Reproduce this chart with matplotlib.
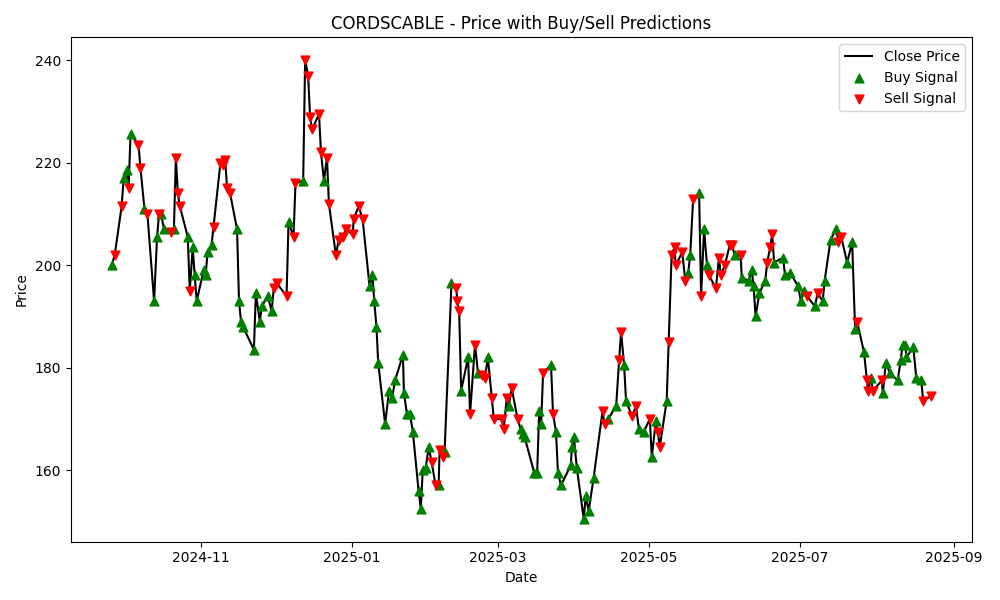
import numpy as np
import pandas as pd
import matplotlib
matplotlib.use('Agg')
import matplotlib.pyplot as plt
import matplotlib.dates as mdates

# days since the first trading day, close price, and predicted signal
start_date = '2024-09-26'
day_offset = [0, 1.2, 4, 4.8, 6, 6.8, 7.6, 10.8, 11.6, 13.2, 14.4, 17.1, 18.3, 19.1, 19.9, 21.1, 23.9, 25.1, 25.9, 26.7,
              27.5, 30.7, 31.5, 32.7, 33.5, 34.3, 37.1, 37.9, 38.7, 40.3, 41.1, 43.9, 45.1, 45.8, 46.6, 47.8, 50.6, 51.4, 52.2, 53,
              57.4, 58.2, 59.8, 60.6, 63, 64.6, 65.4, 66.6, 70.6, 71.4, 73.4, 74.2, 77.3, 78.1, 79.3, 80.1, 80.9, 83.7, 84.5, 85.7,
              86.9, 87.7, 90.5, 91.7, 93.3, 94.5, 97.3, 97.7, 99.7, 101.3, 104.1, 105.3, 106, 106.9, 107.6, 110.4, 112, 113.2, 114.4, 117.6,
              118, 119.2, 120.4, 121.6, 123.9, 124.8, 125.6, 126.8, 128, 129.2, 130.8, 132, 132.4, 133.6, 134.4, 137.2, 139.2, 139.5, 140.3, 141.1,
              143.9, 144.7, 146.7, 147.9, 149.5, 150.7, 151.9, 153.5, 154.3, 157.5, 158.3, 159.5, 160.3, 161.5, 163.9, 165.1, 165.9, 166.7, 170.6, 171.8,
              172.6, 173.4, 174.2, 177.4, 178.2, 179.4, 180.2, 181.4, 185.4, 185.8, 186.6, 187.8, 190.6, 191.4, 192.6, 194.6, 198.2, 199, 200.5, 203.7,
              204.9, 205.7, 206.9, 207.7, 210.1, 211.7, 212.9, 214.9, 217.3, 218.1, 219.7, 220.5, 221.3, 224.1, 224.9, 226.1, 227.3, 227.7, 230.4, 231.6,
              232.8, 233.6, 234.8, 237.2, 238, 239.2, 240.4, 241.2, 244, 245.2, 246, 247.6, 249.6, 250.4, 251.6, 254, 254.4, 257.2, 258.4, 259.2,
              260, 261.5, 263.9, 264.7, 265.9, 266.7, 267.5, 271.1, 271.9, 273.9, 277.1, 278.3, 279.5, 280.7, 283.9, 285.1, 287.1, 287.9, 290.3, 292.6,
              293.4, 294.6, 297, 299, 300.2, 301, 303.8, 305, 305.4, 306.6, 307.4, 311, 311.4, 312.6, 314.2, 317.4, 318.6, 319.4, 320.5, 320.9,
              323.7, 324.9, 326.9, 327.7, 330.9]
close = [200, 202, 211.5, 217, 218.5, 215, 225.7, 223.5, 219, 211, 210, 193, 205.5, 210, 210, 207, 206.5, 207, 221, 214,
         211.5, 205.5, 195, 203.5, 198, 193, 199, 198, 202.5, 204, 207.5, 220, 219.5, 220.5, 215, 214, 207, 193, 189, 188,
         183.5, 194.5, 189, 192, 194, 191, 195.5, 196.5, 194, 208.5, 205.5, 216, 216.5, 240, 237, 229, 226.5, 229.5, 222, 216.5,
         221, 212, 202, 205, 205.5, 207, 206, 209, 211.5, 209, 196, 198, 193, 188, 181, 169, 175.5, 174, 177.5, 182.5,
         175, 171, 171, 167.5, 156, 152.5, 160, 160.5, 164.5, 161.5, 157, 157, 164, 162.5, 163.5, 196.5, 195.5, 193, 191, 175.5,
         182, 171, 184.5, 179, 178.5, 178, 182, 174, 170, 170, 168, 174, 172.5, 176, 170, 168, 167, 166.5, 159.5, 159.5,
         171.5, 169, 179, 180.5, 171, 167.5, 159.5, 157, 161, 164.5, 166.5, 160.5, 150.5, 155, 152, 158.5, 171.5, 169, 170, 172.5,
         181.5, 187, 180.5, 173.5, 170.5, 172.5, 168, 167.5, 170, 162.5, 169.5, 167.5, 164.5, 173.5, 185, 202, 203.5, 200, 202.5, 197,
         198.5, 202, 213, 214, 194, 207, 200, 198, 195.5, 201.5, 198, 200, 204, 204, 202, 202, 197.5, 197, 199, 196,
         190, 194.5, 197, 200.5, 203.5, 206, 200.5, 201.5, 198, 198.5, 196, 193, 195, 194, 192, 194.5, 193, 197, 205, 207,
         204.5, 205.5, 200.5, 204.5, 187.5, 189, 183, 177.5, 175.5, 178, 175.5, 177.5, 175, 181, 179, 177.5, 181.5, 184.5, 184.5, 182,
         184, 178, 177.5, 173.5, 174.5]
signal = list('BSSBBSBSSBSBBSBBSBSSSBSBBBBBBBSSSSSSBBBB'
              'BBBBBBSSSBSSBSSSSSSB'
              'SSSSSSSSSSBBBBBBBBBB'
              'BBBBBBBBBSSBSSBBSSSB'
              'BSSBSSBSSSSSBSSBBBBB'
              'BBSBSBBBBBBBBBBBSSBB'
              'SSBBSSBBSBBSSBSSSSSS'
              'BBSBSBBSSSSSSSBSBBBB'
              'BBBSSSBBBBBBBSBSBBBB'
              'SSBBBSBSSBSSBBBBBBBB'
              'BBBSSSSSSB' 'BS')
signal = signal[:len(close)] + ['B'] * (len(close) - len(signal))

dates = pd.Timestamp(start_date) + pd.to_timedelta(day_offset, unit='D')
df = pd.DataFrame({'Date': dates, 'Close': close, 'Signal': signal})
buy = df[df['Signal'] == 'B']
sell = df[df['Signal'] == 'S']

fig, ax = plt.subplots(figsize=(10, 6))
ax.plot(df['Date'], df['Close'], color='black', label='Close Price')
ax.scatter(buy['Date'], buy['Close'], marker='^', color='green', s=40, label='Buy Signal', zorder=3)
ax.scatter(sell['Date'], sell['Close'], marker='v', color='red', s=40, label='Sell Signal', zorder=3)
ax.xaxis.set_major_locator(mdates.MonthLocator(bymonth=[1, 3, 5, 7, 9, 11]))
ax.xaxis.set_major_formatter(mdates.DateFormatter('%Y-%m'))
ax.set_xlabel('Date')
ax.set_ylabel('Price')
ax.set_title('CORDSCABLE - Price with Buy/Sell Predictions')
ax.legend(loc='upper right')
plt.tight_layout()
plt.savefig('out.png', dpi=100)
